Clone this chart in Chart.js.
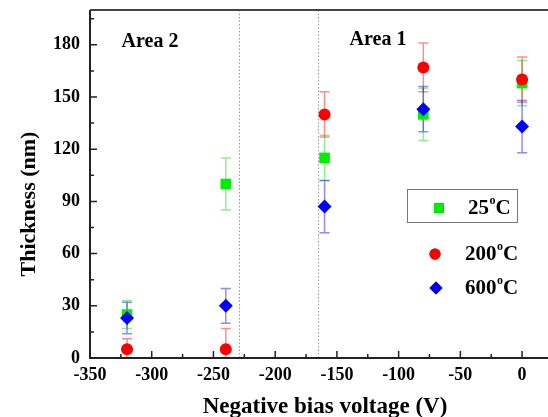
<!DOCTYPE html>
<html>
<head>
<meta charset="utf-8">
<script src="https://cdn.jsdelivr.net/npm/chart.js@4.4.1/dist/chart.umd.min.js"></script>
<style>
  html, body { margin: 0; padding: 0; background: #fff; }
  #wrap { width: 548px; height: 417px; position: relative; }
</style>
</head>
<body>
<div id="wrap"><canvas id="thicknessChart" width="548" height="417"></canvas></div>
<script>
// bias voltage (V) and film thickness (nm)
const voltages = [-320, -240, -160, -80, 0];
const thick25 = [25, 100, 115, 140, 158];
const err25 = [8, 15, 13, 15, 13];
const thick200 = [5, 5, 140, 167, 160];
const err200 = [6, 12, 13, 14, 13];
const thick600 = [23, 30, 87, 143, 133];
const err600 = [9, 10, 15, 13, 15];

const xTicks = [-350, -300, -250, -200, -150, -100, -50, 0];
const xMinorTicks = [-325, -275, -225, -175, -125, -75, -25];
const yTicks = [0, 30, 60, 90, 120, 150, 180];
const yMinorTicks = [15, 45, 75, 105, 135, 165, 195];
const areaBounds = [-229, -165];

const FONT = '"Liberation Serif", "Times New Roman", serif';

const series = [
  { label: '25', data: thick25, err: err25, color: '#00ee00', errColor: 'rgba(0, 220, 0, 0.45)', style: 'rect', radius: 7.5, order: 3 },
  { label: '200', data: thick200, err: err200, color: '#ff0000', errColor: 'rgba(255, 0, 0, 0.45)', style: 'circle', radius: 6, order: 2 },
  { label: '600', data: thick600, err: err600, color: '#0000ff', errColor: 'rgba(0, 0, 255, 0.45)', style: 'rectRot', radius: 7, order: 1 },
];

function drawDegreeLabel(ctx, x, y, num) {
  ctx.font = 'bold 21px ' + FONT;
  ctx.textBaseline = 'middle';
  ctx.textAlign = 'left';
  ctx.fillStyle = '#000';
  ctx.fillText(num, x, y);
  let w = ctx.measureText(num).width;
  ctx.font = 'bold 12px ' + FONT;
  ctx.fillText('o', x + w + 0.5, y - 8);
  w += ctx.measureText('o').width + 0.5;
  ctx.font = 'bold 21px ' + FONT;
  ctx.fillText('C', x + w, y);
}

const figurePlugin = {
  id: 'figurePlugin',
  beforeDatasetsDraw(chart) {
    const { ctx, chartArea: a, scales: { x, y } } = chart;
    ctx.save();
    ctx.beginPath();
    ctx.rect(a.left, a.top, a.right - a.left, a.bottom - a.top);
    ctx.clip();

    // dotted area separators
    ctx.strokeStyle = '#999';
    ctx.lineWidth = 1;
    ctx.setLineDash([1.5, 2]);
    areaBounds.forEach(v => {
      const px = Math.round(x.getPixelForValue(v)) + 0.5;
      ctx.beginPath();
      ctx.moveTo(px, a.top);
      ctx.lineTo(px, a.bottom);
      ctx.stroke();
    });
    ctx.setLineDash([]);

    // error bars
    series.forEach(s => {
      ctx.strokeStyle = s.errColor;
      ctx.lineWidth = 1.5;
      s.data.forEach((v, i) => {
        const px = x.getPixelForValue(voltages[i]);
        const top = y.getPixelForValue(v + s.err[i]);
        const bot = y.getPixelForValue(v - s.err[i]);
        ctx.beginPath();
        ctx.moveTo(px, top);
        ctx.lineTo(px, bot);
        ctx.moveTo(px - 5, top);
        ctx.lineTo(px + 5, top);
        ctx.moveTo(px - 5, bot);
        ctx.lineTo(px + 5, bot);
        ctx.stroke();
      });
    });
    ctx.restore();
  },
  afterDraw(chart) {
    const { ctx, chartArea: a, scales: { x, y } } = chart;
    ctx.save();

    // axes and top frame line
    ctx.strokeStyle = '#222';
    ctx.lineWidth = 2;
    ctx.beginPath();
    ctx.moveTo(a.left, a.top);
    ctx.lineTo(a.left, a.bottom);
    ctx.lineTo(a.right, a.bottom);
    ctx.stroke();
    ctx.strokeStyle = '#444';
    ctx.beginPath();
    ctx.moveTo(a.left, a.top);
    ctx.lineTo(a.right, a.top);
    ctx.stroke();

    // inward tick marks
    ctx.strokeStyle = '#222';
    ctx.lineWidth = 1.5;
    ctx.beginPath();
    xTicks.forEach(v => {
      const px = x.getPixelForValue(v);
      ctx.moveTo(px, a.bottom); ctx.lineTo(px, a.bottom - 7);
    });
    xMinorTicks.forEach(v => {
      const px = x.getPixelForValue(v);
      ctx.moveTo(px, a.bottom); ctx.lineTo(px, a.bottom - 4);
    });
    yTicks.forEach(v => {
      const py = y.getPixelForValue(v);
      ctx.moveTo(a.left, py); ctx.lineTo(a.left + 7, py);
    });
    yMinorTicks.forEach(v => {
      const py = y.getPixelForValue(v);
      ctx.moveTo(a.left, py); ctx.lineTo(a.left + 4, py);
    });
    ctx.stroke();

    // area labels
    ctx.fillStyle = '#000';
    ctx.font = 'bold 20px ' + FONT;
    ctx.textAlign = 'center';
    ctx.textBaseline = 'middle';
    ctx.fillText('Area 2', 150, 42);
    ctx.fillText('Area 1', 378, 40);

    // legend (only the first entry is framed in the original)
    ctx.strokeStyle = '#777';
    ctx.lineWidth = 1;
    ctx.strokeRect(407.5, 189.5, 110, 33);
    const legendRows = [208, 254, 288];
    const legendMarkX = [439, 435, 436];
    series.forEach((s, i) => {
      Chart.helpers.drawPoint(ctx, {
        pointStyle: s.style, radius: s.radius - 0.5, rotation: 0, borderWidth: 0
      }, legendMarkX[i], legendRows[i]);
      ctx.fillStyle = s.color;
      ctx.fill();
      drawDegreeLabel(ctx, s.label.length === 2 ? 468 : 465, legendRows[i] + 1, s.label);
    });

    // axis titles
    ctx.fillStyle = '#000';
    ctx.font = 'bold 23px ' + FONT;
    ctx.textAlign = 'center';
    ctx.textBaseline = 'alphabetic';
    ctx.fillText('Negative bias voltage (V)', 325, 413);
    ctx.save();
    ctx.translate(35, 204);
    ctx.rotate(-Math.PI / 2);
    ctx.font = 'bold 22px ' + FONT;
    ctx.fillText('Thickness (nm)', 0, 0);
    ctx.restore();

    ctx.restore();
  }
};

new Chart(document.getElementById('thicknessChart'), {
  type: 'scatter',
  data: {
    datasets: series.map(s => ({
      label: s.label + '°C',
      data: s.data.map((v, i) => ({ x: voltages[i], y: v })),
      backgroundColor: s.color,
      borderColor: s.color,
      borderWidth: 0,
      pointStyle: s.style,
      pointRadius: s.radius,
      pointHoverRadius: s.radius,
      order: s.order,
    }))
  },
  options: {
    responsive: false,
    animation: false,
    events: [],
    layout: { autoPadding: false, padding: { top: 10, left: 0, right: 0, bottom: 0 } },
    plugins: {
      legend: { display: false },
      tooltip: { enabled: false }
    },
    scales: {
      x: {
        type: 'linear',
        min: -350,
        max: 21,
        grid: { display: false, drawTicks: false },
        border: { display: false },
        afterBuildTicks: scale => { scale.ticks = xTicks.map(v => ({ value: v })); },
        afterFit: scale => {
          scale.height = 59;
          scale.paddingLeft = 0;
          scale.paddingRight = 0;
        },
        ticks: {
          color: '#000',
          padding: 7,
          maxRotation: 0,
          font: { family: FONT, size: 18, weight: 'bold' },
          callback: v => String(v)
        }
      },
      y: {
        min: 0,
        max: 200,
        grid: { display: false, drawTicks: false },
        border: { display: false },
        afterBuildTicks: scale => { scale.ticks = yTicks.map(v => ({ value: v })); },
        afterFit: scale => {
          scale.width = 90;
          scale.paddingTop = 0;
          scale.paddingBottom = 0;
        },
        ticks: {
          color: '#000',
          padding: 10,
          font: { family: FONT, size: 18, weight: 'bold' },
          callback: v => String(v)
        }
      }
    }
  },
  plugins: [figurePlugin]
});
</script>
</body>
</html>
